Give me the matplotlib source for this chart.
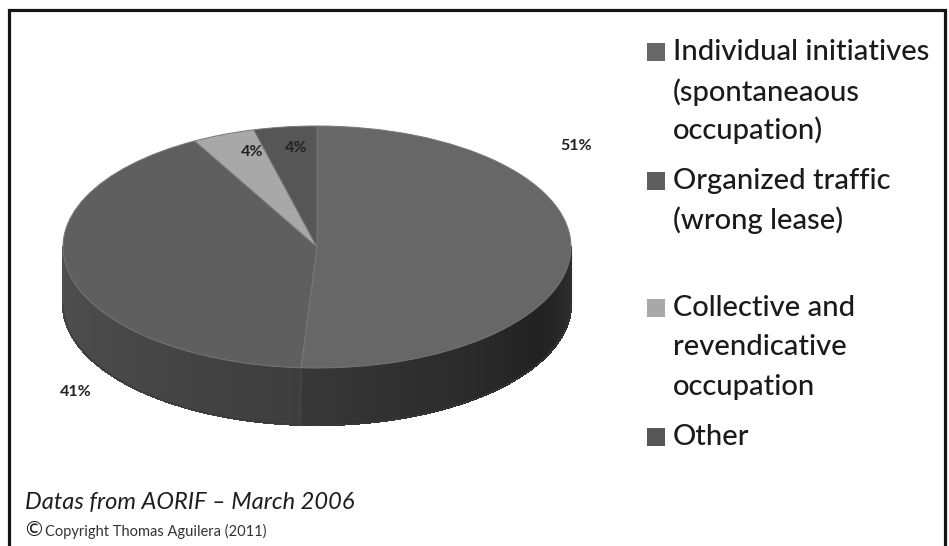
import numpy as np
import matplotlib
matplotlib.use("Agg")
import matplotlib.pyplot as plt
from matplotlib.transforms import Affine2D
from matplotlib.collections import PolyCollection
from matplotlib.patches import Rectangle

# données
categories = ["Individual initiatives (spontaneaous occupation)",
              "Organized traffic (wrong lease)",
              "Collective and revendicative occupation",
              "Other"]
legend_lines = [["Individual initiatives", "(spontaneaous", "occupation)"],
                ["Organized traffic", "(wrong lease)"],
                ["Collective and", "revendicative", "occupation"],
                ["Other"]]
valeurs = [51, 41, 4, 4]
etiquettes = ["51%", "41%", "4%", "4%"]
couleurs = ["#676767", "#5f5f5f", "#a8a8a8", "#565656"]

W, H = 949, 546
fig = plt.figure(figsize=(W / 100, H / 100), dpi=100)
ax = fig.add_axes([0, 0, 1, 1])

def Y(y):
    # coordonnée image -> coordonnée données
    return H - y

# géométrie du camembert 3D
cx, cy = 317, Y(247)
a, b = 254, 121
h = 57

# paroi latérale (partie avant visible)
frac = np.cumsum([0] + valeurs) / sum(valeurs) * 360
knots_t = [90, 120, 183.6, 183.61, 270]
knots_v = [0x30, 0x22, 0x38, 0x3e, 0x50]
polys, cols = [], []
for i in range(len(valeurs)):
    t0, t1 = max(frac[i], 90), min(frac[i + 1], 270)
    if t1 <= t0:
        continue
    ts = np.linspace(t0, t1, int((t1 - t0) * 2) + 2)
    for ta, tb in zip(ts[:-1], ts[1:]):
        ra, rb = np.radians(ta), np.radians(tb)
        xa, ya = cx + a * np.sin(ra), cy + b * np.cos(ra)
        xb, yb = cx + a * np.sin(rb), cy + b * np.cos(rb)
        polys.append([(xa, ya), (xb, yb), (xb, yb - h), (xa, ya - h)])
        v = np.interp((ta + tb) / 2, knots_t, knots_v) / 255
        cols.append((v, v, v))
ax.add_collection(PolyCollection(polys, facecolors=cols, edgecolors=cols,
                                 linewidths=1.0, antialiaseds=False, zorder=1))
# contour lissé du bas de la paroi
tt = np.radians(np.linspace(90, 270, 200))
ax.plot(cx + a * np.sin(tt), cy + b * np.cos(tt) - h, color="#3a3a3a",
        lw=0.8, zorder=1.2)
ax.plot([cx + a, cx + a], [cy, cy - h], color="#2e2e2e", lw=0.8, zorder=1.2)
ax.plot([cx - a, cx - a], [cy, cy - h], color="#505050", lw=0.8, zorder=1.2)
# ligne de séparation sur la paroi
tb_ = np.radians(frac[1])
xs = cx + a * np.sin(tb_)
ys = cy + b * np.cos(tb_)
ax.plot([xs, xs - 2], [ys, ys - h], color="#474747", lw=0.8, zorder=1.5)

# face supérieure
wedges, _ = ax.pie(valeurs, colors=couleurs, startangle=90, counterclock=False,
                   center=(cx, cy), radius=a,
                   wedgeprops=dict(linewidth=0.7, edgecolor="#777777"))
squash = Affine2D().translate(-cx, -cy).scale(1, b / a).translate(cx, cy)
for w in wedges:
    w.set_transform(squash + ax.transData)
    w.set_zorder(2)

# étiquettes de pourcentage
pos_etiq = [(576, 146), (76, 392), (252, 152), (296, 148)]
for txt, (x, y) in zip(etiquettes, pos_etiq):
    ax.text(x, Y(y), txt, fontsize=11.5, color="#222222", family="Lato",
            fontweight="bold", ha="center", va="center", zorder=5)

# légende
leg_y = [[52, 92, 130], [181, 220], [308, 347, 387], [437]]
for lines, ys_, c in zip(legend_lines, leg_y, couleurs):
    ax.add_patch(Rectangle((647, Y(ys_[0]) - 9), 18, 18, facecolor=c,
                           edgecolor="none", zorder=5))
    for line, y in zip(lines, ys_):
        ax.text(673, Y(y), line, fontsize=21, color="#1a1a1a", family="Lato",
                fontweight="medium", ha="left", va="center", zorder=5)

# source et copyright
ax.text(25, Y(502), "Datas from AORIF \u2013 March 2006", fontsize=17,
        style="italic", color="#1e1e1e", family="Lato", ha="left", va="center")
ax.text(23, Y(530), "\u00a9", fontsize=15, color="#1e1e1e", family="DejaVu Sans",
        ha="left", va="center")
ax.text(45, Y(531), "Copyright Thomas Aguilera (2011)", fontsize=10.5,
        color="#333333", family="Lato", ha="left", va="center")

# cadre
ax.plot([9, 9, 945, 945], [0, Y(10), Y(10), 0], color="#151515", lw=2.3,
        solid_joinstyle="miter", zorder=6)

ax.set_xlim(0, W)
ax.set_ylim(0, H)
ax.set_aspect("auto")
ax.axis("off")
fig.savefig("out.png", dpi=100, facecolor="white")
